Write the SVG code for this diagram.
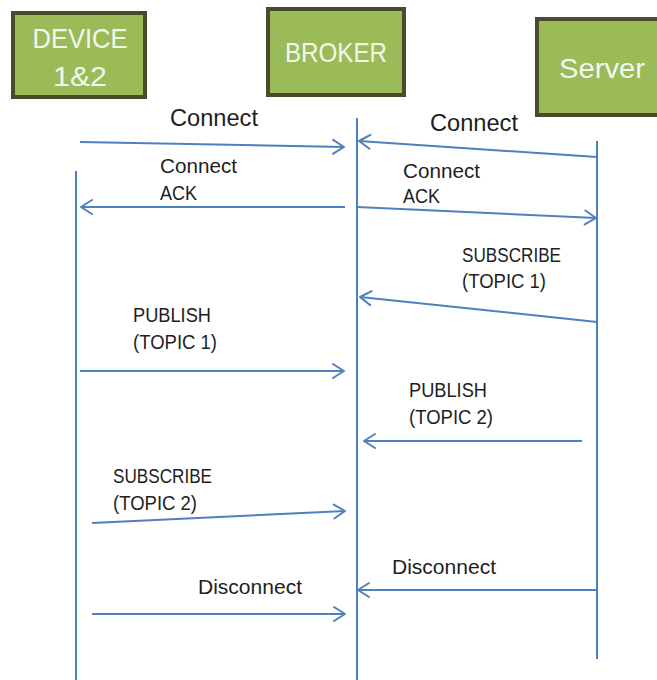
<svg xmlns="http://www.w3.org/2000/svg" width="657" height="680" viewBox="0 0 657 680">
  <defs>
    <style>
      .box { fill: #9BBB59; stroke: #4B4A2C; stroke-width: 4; }
      .title { font-family: "Liberation Sans", Arial, sans-serif; font-size: 28.5px; fill: #F2F7EE; text-anchor: middle; }
      .lbl { font-family: "Liberation Sans", Arial, sans-serif; font-size: 19.5px; fill: #1E1E1E; }
      .big { font-size: 23px; }
      .life { stroke: #4F81BD; stroke-width: 2; fill: none; }
      .msg { stroke: #4F81BD; stroke-width: 2; fill: none; marker-end: url(#arr); }
    </style>
    <marker id="arr" viewBox="-13 -9 15 18" refX="0" refY="0" markerWidth="15" markerHeight="18" markerUnits="userSpaceOnUse" orient="auto">
      <path d="M-11,-7 L0,0 L-11,7" fill="none" stroke="#4F81BD" stroke-width="2" stroke-linejoin="round" stroke-linecap="round"/>
    </marker>
  </defs>

  <rect width="657" height="680" fill="#FFFFFF"/>

  <!-- participants -->
  <g id="device">
    <rect class="box" x="13" y="13" width="132" height="84"/>
    <text class="title" x="80" y="48" textLength="95" lengthAdjust="spacingAndGlyphs">DEVICE</text>
    <text class="title" x="80" y="86" textLength="54" lengthAdjust="spacingAndGlyphs">1&amp;2</text>
  </g>
  <g id="broker">
    <rect class="box" x="268" y="9" width="136" height="86"/>
    <text class="title" x="336" y="62" textLength="102" lengthAdjust="spacingAndGlyphs">BROKER</text>
  </g>
  <g id="server">
    <rect class="box" x="537" y="19" width="140" height="96"/>
    <text class="title" x="602" y="78" textLength="86" lengthAdjust="spacingAndGlyphs">Server</text>
  </g>

  <!-- lifelines and messages -->
  <g id="connectors">
    <line class="life" x1="76" y1="171" x2="76" y2="680"/>
    <line class="life" x1="357" y1="118" x2="357" y2="680"/>
    <line class="life" x1="597" y1="141" x2="597" y2="659"/>

    <line class="msg" x1="80" y1="142" x2="344" y2="147"/>
    <line class="msg" x1="597" y1="157" x2="359" y2="141"/>
    <line class="msg" x1="345" y1="207" x2="81" y2="207"/>
    <line class="msg" x1="357" y1="207" x2="596" y2="218"/>
    <line class="msg" x1="597" y1="322" x2="360" y2="297"/>
    <line class="msg" x1="80" y1="371" x2="344" y2="371"/>
    <line class="msg" x1="582" y1="441" x2="364" y2="441"/>
    <line class="msg" x1="92" y1="523" x2="345" y2="511"/>
    <line class="msg" x1="597" y1="590" x2="358" y2="590"/>
    <line class="msg" x1="92" y1="614" x2="345" y2="614"/>
  </g>

  <!-- message labels -->
  <g id="labels">
    <text class="lbl big" x="170" y="126" textLength="88" lengthAdjust="spacingAndGlyphs">Connect</text>
    <text class="lbl big" x="430" y="131" textLength="88" lengthAdjust="spacingAndGlyphs">Connect</text>

    <text class="lbl" x="160" y="173" textLength="77" lengthAdjust="spacingAndGlyphs">Connect</text>
    <text class="lbl" x="160" y="200" textLength="37" lengthAdjust="spacingAndGlyphs">ACK</text>

    <text class="lbl" x="403" y="178" textLength="77" lengthAdjust="spacingAndGlyphs">Connect</text>
    <text class="lbl" x="403" y="203" textLength="37" lengthAdjust="spacingAndGlyphs">ACK</text>

    <text class="lbl" x="462" y="262" textLength="99" lengthAdjust="spacingAndGlyphs">SUBSCRIBE</text>
    <text class="lbl" x="462" y="288" textLength="84" lengthAdjust="spacingAndGlyphs">(TOPIC 1)</text>

    <text class="lbl" x="133" y="322" textLength="78" lengthAdjust="spacingAndGlyphs">PUBLISH</text>
    <text class="lbl" x="133" y="349" textLength="84" lengthAdjust="spacingAndGlyphs">(TOPIC 1)</text>

    <text class="lbl" x="409" y="397" textLength="78" lengthAdjust="spacingAndGlyphs">PUBLISH</text>
    <text class="lbl" x="409" y="424" textLength="84" lengthAdjust="spacingAndGlyphs">(TOPIC 2)</text>

    <text class="lbl" x="113" y="483" textLength="99" lengthAdjust="spacingAndGlyphs">SUBSCRIBE</text>
    <text class="lbl" x="113" y="510" textLength="84" lengthAdjust="spacingAndGlyphs">(TOPIC 2)</text>

    <text class="lbl" x="392" y="574" textLength="104" lengthAdjust="spacingAndGlyphs">Disconnect</text>
    <text class="lbl" x="198" y="594" textLength="104" lengthAdjust="spacingAndGlyphs">Disconnect</text>
  </g>
</svg>
